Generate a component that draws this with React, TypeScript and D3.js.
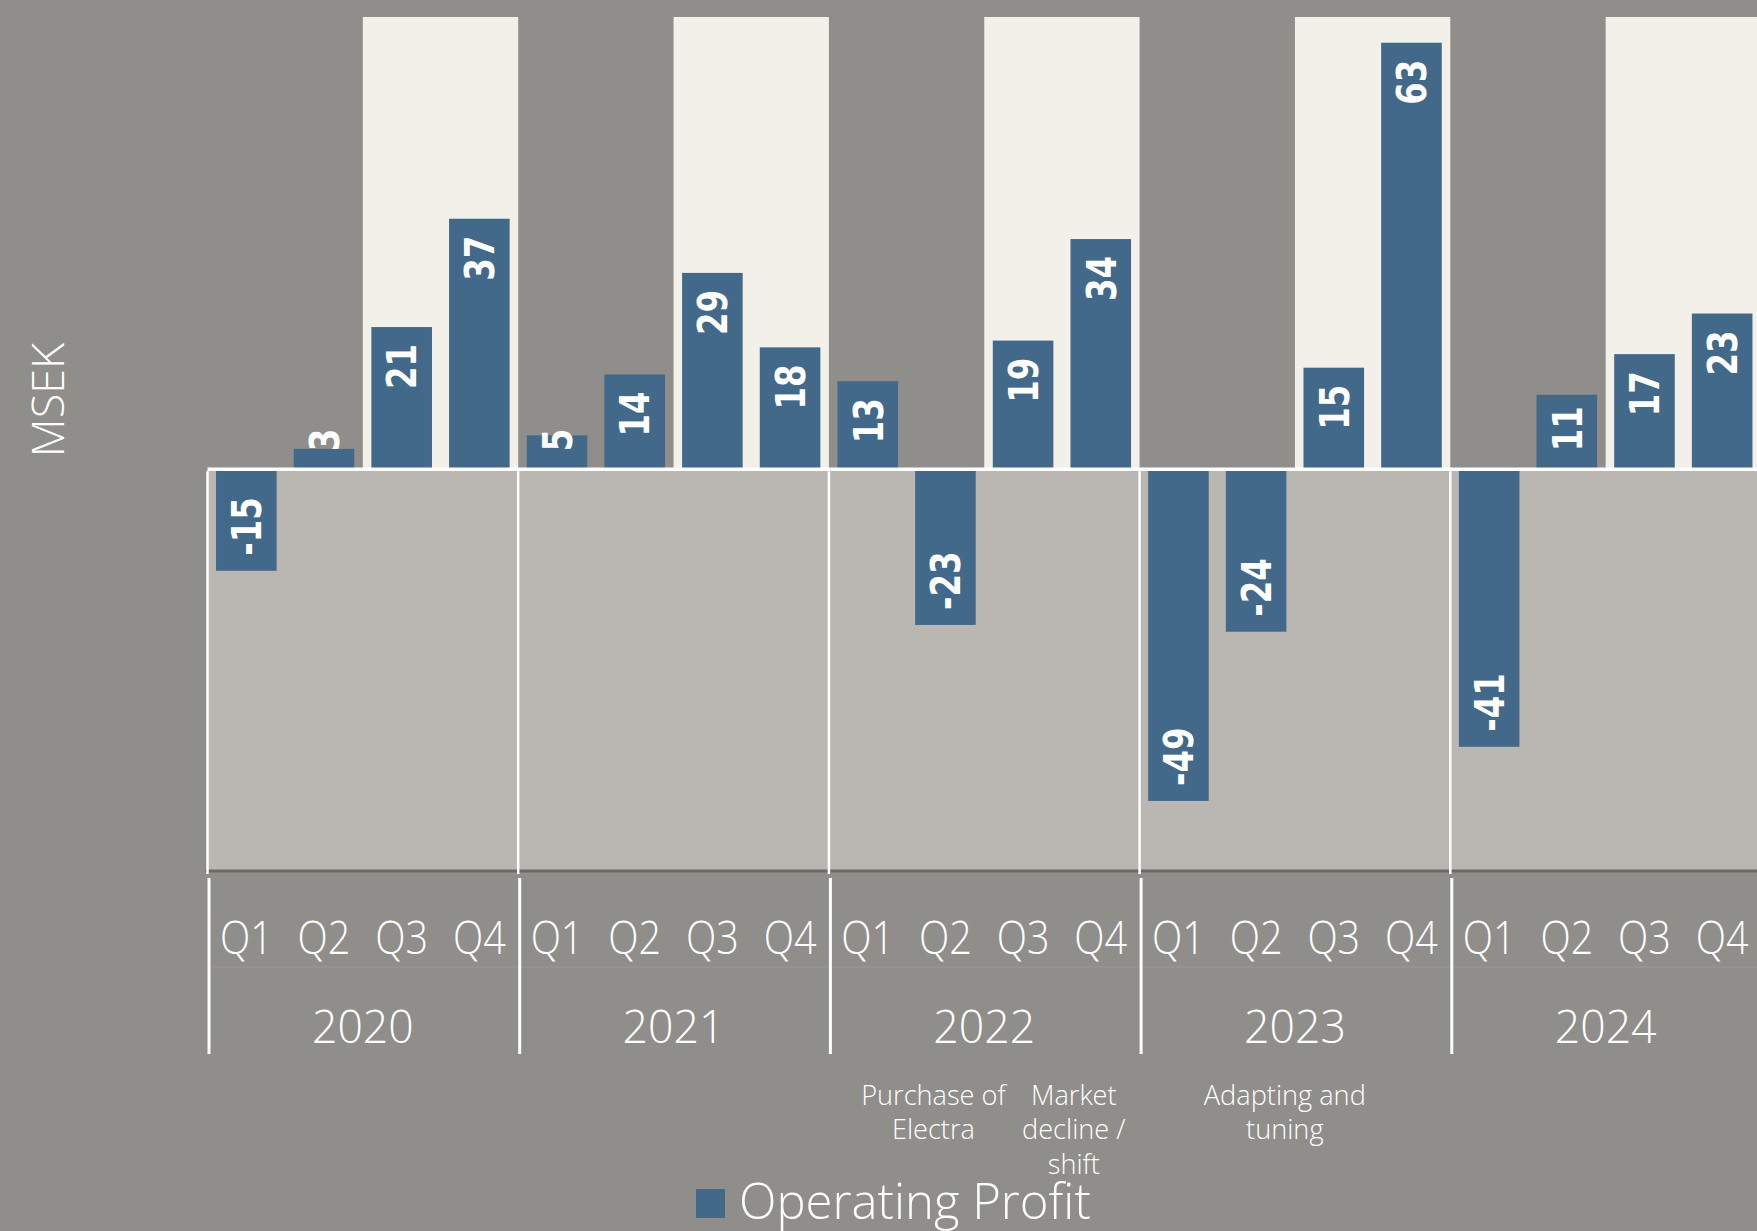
import React, { useEffect, useRef } from 'react';
import * as d3 from 'd3';

// quarterly operating profit, MSEK
const years = ['2020', '2021', '2022', '2023', '2024'];
const quarters = ['Q1', 'Q2', 'Q3', 'Q4'];
const operatingProfit = [
  -15, 3, 21, 37,
  5, 14, 29, 18,
  13, -23, 19, 34,
  -49, -24, 15, 63,
  -41, 11, 17, 23,
];
const highlightQuarters = ['Q3', 'Q4'];
const notes = [
  { year: '2022', quarter: 'Q2', lines: ['Purchase of', 'Electra'] },
  { year: '2022', quarter: 'Q4', lines: ['Market', 'decline /', 'shift'] },
  { year: '2023', quarter: 'Q3', lines: ['Adapting and', 'tuning'] },
];
const axisTitle = 'MSEK';
const seriesName = 'Operating Profit';

const W = 1757;
const H = 1231;
const BG = '#8f8e8a';
const LOWER = '#bab7b2';
const BAND = '#f3efe9';
const BAR = '#426989';
const LIGHT_FONT = '"Open Sans", "Noto Sans", sans-serif';
const noteDx = [-12, -27, -49];

const App = () => {
  const svgRef = useRef(null);

  useEffect(() => {
    const svg = d3.select(svgRef.current);
    svg.selectAll('*').remove();

    const keys = years.flatMap(yr => quarters.map(q => `${yr} ${q}`));
    const data = keys.map((k, i) => ({ key: k, year: k.split(' ')[0], q: k.split(' ')[1], value: operatingProfit[i] }));

    const left = 207.5;
    const bottom = 870;
    const x = d3.scaleBand().domain(keys).range([left, 1761]).paddingInner(0.22).paddingOuter(0.11);
    const y = d3.scaleLinear().domain([-59.2, 66.8]).range([bottom, 17]);
    const step = x.step();
    const slotStart = k => x(k) - (step - x.bandwidth()) / 2;
    const cx = k => x(k) + x.bandwidth() / 2;
    const y0 = y(0);

    svg.append('rect').attr('width', W).attr('height', H).attr('fill', BG);

    // Q3-Q4 highlight bands
    svg.append('g').selectAll('rect')
      .data(years)
      .join('rect')
      .attr('x', yr => slotStart(`${yr} ${highlightQuarters[0]}`))
      .attr('y', y(y.domain()[1]))
      .attr('width', step * highlightQuarters.length)
      .attr('height', y0 - y(y.domain()[1]))
      .attr('fill', BAND);

    // negative area
    svg.append('rect')
      .attr('x', left).attr('y', y0)
      .attr('width', W - left).attr('height', bottom - y0)
      .attr('fill', LOWER);

    // bars
    svg.append('g').selectAll('rect')
      .data(data)
      .join('rect')
      .attr('x', d => x(d.key))
      .attr('y', d => d.value >= 0 ? y(d.value) : y0)
      .attr('width', x.bandwidth())
      .attr('height', d => Math.abs(y(d.value) - y0))
      .attr('fill', BAR);

    // zero line and frame
    svg.append('line')
      .attr('x1', left).attr('x2', W).attr('y1', y0).attr('y2', y0)
      .attr('stroke', '#fff').attr('stroke-width', 3.5);
    svg.append('line')
      .attr('x1', left - 2).attr('x2', W).attr('y1', bottom + 1).attr('y2', bottom + 1)
      .attr('stroke', '#6b6a66').attr('stroke-width', 3);
    svg.append('line')
      .attr('x1', left).attr('x2', W).attr('y1', 967).attr('y2', 967)
      .attr('stroke', '#9a9995').attr('stroke-width', 1);

    // year separators
    const sep = svg.append('g');
    years.forEach(yr => {
      const sx = slotStart(`${yr} Q1`);
      sep.append('line')
        .attr('x1', sx).attr('x2', sx).attr('y1', y0 + 2).attr('y2', bottom + 4)
        .attr('stroke', '#fff').attr('stroke-width', 2.5);
      sep.append('line')
        .attr('x1', sx + 1.5).attr('x2', sx + 1.5).attr('y1', 878).attr('y2', 1054)
        .attr('stroke', '#fff').attr('stroke-width', 3);
    });

    // value labels
    const lab = svg.append('g')
      .attr('font-family', '"DejaVu Sans", sans-serif')
      .attr('font-weight', 'bold')
      .attr('font-size', 41)
      .attr('fill', '#fff');
    data.forEach(d => {
      const t = lab.append('text').attr('dy', '0.36em').text(d.value);
      const len = (t.node() as any).getComputedTextLength() * 0.79;
      let ty, anchor;
      if (d.value < 0) {
        ty = y(d.value) - 15;
        anchor = 'start';
      } else {
        ty = y(d.value) + 17;
        anchor = 'end';
        if (ty + len > y0 - 18) {
          ty = y0 - 18;
          anchor = 'start';
        }
      }
      t.attr('text-anchor', anchor)
        .attr('transform', `translate(${cx(d.key)},${ty}) rotate(-90) scale(0.79,1)`);
    });

    // category axis
    const ax = svg.append('g')
      .attr('font-family', LIGHT_FONT)
      .attr('font-weight', 300)
      .attr('fill', '#fff')
      .attr('text-anchor', 'middle');
    ax.selectAll('text.q')
      .data(data)
      .join('text')
      .attr('class', 'q')
      .attr('font-size', 46)
      .attr('transform', d => `translate(${cx(d.key)},954) scale(0.86,1)`)
      .text(d => d.q);
    ax.selectAll('text.yr')
      .data(years)
      .join('text')
      .attr('class', 'yr')
      .attr('font-size', 46)
      .attr('transform', yr => `translate(${slotStart(`${yr} Q1`) + step * 2},1043) scale(0.97,1)`)
      .text(yr => yr);

    // notes under the axis
    notes.forEach((n, i) => {
      const g = svg.append('text')
        .attr('font-family', LIGHT_FONT)
        .attr('font-weight', 300)
        .attr('font-size', 28)
        .attr('fill', '#fff')
        .attr('text-anchor', 'middle')
        .attr('transform', `translate(${cx(`${n.year} ${n.quarter}`) + noteDx[i]},1105) scale(0.97,1)`);
      n.lines.forEach((l, j) => {
        g.append('tspan').attr('x', 0).attr('y', j * 34.5).text(l);
      });
    });

    // axis title
    svg.append('text')
      .attr('font-family', LIGHT_FONT)
      .attr('font-weight', 300)
      .attr('font-size', 45)
      .attr('fill', '#fff')
      .attr('text-anchor', 'middle')
      .attr('transform', 'translate(64,400) rotate(-90)')
      .text(axisTitle);

    // legend
    svg.append('rect')
      .attr('x', 696).attr('y', 1189).attr('width', 29).attr('height', 29)
      .attr('fill', BAR);
    svg.append('text')
      .attr('font-family', LIGHT_FONT)
      .attr('font-weight', 300)
      .attr('font-size', 49)
      .attr('fill', '#fff')
      .attr('transform', 'translate(739,1219)')
      .text(seriesName);
  }, []);

  return (
    <svg ref={svgRef} width={W} height={H}
      style={{ position: 'absolute', left: 0, top: 0, display: 'block' }} />
  );
};

export default App;
